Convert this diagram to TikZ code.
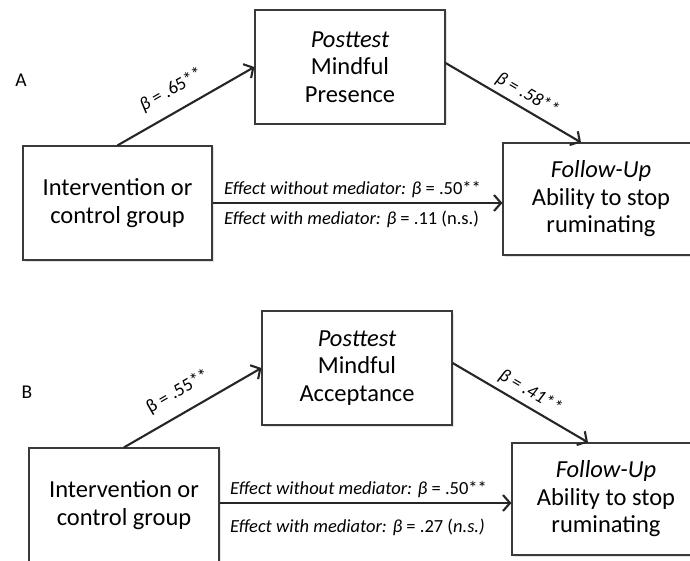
\documentclass[tikz,border=0pt]{standalone}
\usepackage{fontspec}
\setmainfont{Carlito}
\usetikzlibrary{arrows.meta,shadows,calc}
\definecolor{boxgray}{HTML}{3A3A3A}
\definecolor{arrowgray}{HTML}{262626}
\begin{document}
\begin{tikzpicture}[x=1pt,y=-1pt,
  box/.style={draw=boxgray, line width=1.2pt, fill=white, minimum width=190pt,
    minimum height=114pt, align=center, inner sep=0pt,
    font=\fontsize{24.5}{27.5}\selectfont,
    drop shadow={opacity=0.22, shadow xshift=1.5pt, shadow yshift=-1.5pt}},
  conn/.style={line width=2.1pt, draw=arrowgray, -{Straight Barb[length=7pt,width=16pt]}},
  lbl/.style={font=\fontsize{18.5}{21}\selectfont, inner sep=1pt},
  panel/.style={font=\fontsize{19.5}{22}\selectfont, inner sep=0pt}
]
\useasboundingbox (0,0) rectangle (690,561);
\clip (0,0) rectangle (690,561);

% ---------------- Panel A ----------------
\node[panel] (labA) at (21,80) {A};
\node[box] (postA) at (350,67) {\textit{Posttest}\\Mindful\\Presence};
\node[box, minimum width=189pt] (intA) at (117.5,203) {Intervention or\\control group};
\node[box, minimum width=196pt, minimum height=112pt] (fuA) at (601,199)
  {\textit{Follow-Up}\\Ability to stop\\ruminating};

\draw[conn] (intA.north) -- (postA.west)
  node[lbl, pos=0.47, sloped, above=11pt] (bA1) {\textit{β} = .65**};
\draw[conn] ([yshift=4pt]postA.east) -- ([xshift=-20pt]fuA.north)
  node[lbl, pos=0.55, sloped, above=4pt] (bA2) {\textit{β = .58**}};
\draw[conn] (intA.east) -- (intA.east -| fuA.west);
\node[lbl, anchor=west] (effA1) at (223,190) {\textit{Effect without mediator: β} = .50**};
\node[lbl, anchor=west] (effA2) at (223,219) {\textit{Effect with mediator: β} = .11 (n.s.)};

% ---------------- Panel B ----------------
\node[panel] (labB) at (27,392) {B};
\node[box] (postB) at (357,368) {\textit{Posttest}\\Mindful\\Acceptance};
\node[box] (intB) at (124,505) {Intervention or\\control group};
\node[box, minimum width=188pt, minimum height=112pt] (fuB) at (606,499)
  {\textit{Follow-Up}\\Ability to stop\\ruminating};

\draw[conn] (intB.north) -- (postB.west)
  node[lbl, pos=0.47, sloped, above=11pt] (bB1) {β = .55**};
\draw[conn] ([yshift=5pt]postB.east) -- ([xshift=-18pt]fuB.north)
  node[lbl, pos=0.52, sloped, above=4pt] (bB2) {\textit{β = .41**}};
\draw[conn] ([yshift=2pt]intB.east) -- ([yshift=2pt]intB.east -| fuB.west);
\node[lbl, anchor=west] (effB1) at (229,490) {\textit{Effect without mediator: β} = .50**};
\node[lbl, anchor=west] (effB2) at (229,527) {\textit{Effect with mediator: β} = .27 (\textit{n.s.)}};
\end{tikzpicture}
\end{document}
